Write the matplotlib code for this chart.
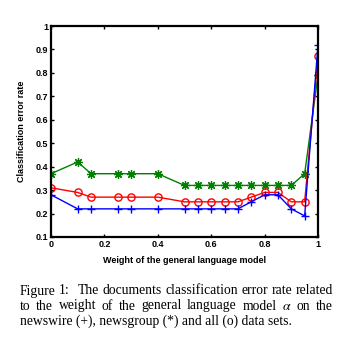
import matplotlib
matplotlib.use("Agg")
import matplotlib.pyplot as plt

plt.rcParams["mathtext.fontset"] = "stix"

# Weight of the general language model
weights = [0.0, 0.1, 0.15, 0.25, 0.3, 0.4, 0.5, 0.55, 0.6, 0.65, 0.7,
           0.75, 0.8, 0.85, 0.9, 0.95, 1.0]
# Classification error rates
newswire = [0.28, 0.22, 0.22, 0.22, 0.22, 0.22, 0.22, 0.22, 0.22, 0.22, 0.22,
            0.25, 0.28, 0.28, 0.22, 0.19, 0.92]
newsgroup = [0.37, 0.42, 0.37, 0.37, 0.37, 0.37, 0.32, 0.32, 0.32, 0.32, 0.32,
             0.32, 0.32, 0.32, 0.32, 0.37, 0.79]
all_sets = [0.31, 0.29, 0.27, 0.27, 0.27, 0.27, 0.25, 0.25, 0.25, 0.25, 0.25,
            0.27, 0.29, 0.29, 0.25, 0.25, 0.87]
yticks = [0.1, 0.2, 0.3, 0.4, 0.5, 0.6, 0.7, 0.8, 0.9, 1.0]
ytick_labels = ["0.1", "0.2", "0.3", "0.4", "0.5", "0.6", "0.7", "0.8", "0.9", "1"]
xticks = [0, 0.2, 0.4, 0.6, 0.8, 1.0]
xtick_labels = ["0", "0.2", "0.4", "0.6", "0.8", "1"]

caption_lines = [
    "Figure 1:  The documents classification error rate related",
    "to the weight of the general language model $\\alpha$ on the",
    "newswire (+), newsgroup (*) and all (o) data sets.",
]

W, H = 359, 342
fig = plt.figure(figsize=(W / 100, H / 100), dpi=100)
ax = fig.add_axes([51 / W, 1 - 237 / H, (318 - 51) / W, (237 - 26) / H])

ax.plot(weights, newsgroup, color="#008000", marker=(8, 2, 0), markersize=6.5,
        markeredgewidth=0.9, linewidth=1.0)
ax.plot(weights, all_sets, color="red", marker="o", markersize=5.2,
        markerfacecolor="none", markeredgewidth=1.0, linewidth=1.0)
ax.plot(weights, newswire, color="blue", marker="+", markersize=6,
        markeredgewidth=1.0, linewidth=1.0)

ax.set_xlim(0, 1)
ax.set_ylim(0.1, 1.0)
ax.set_xticks(xticks)
ax.set_xticklabels(xtick_labels)
ax.set_yticks(yticks)
ax.set_yticklabels(ytick_labels)
for lab in ax.get_xticklabels() + ax.get_yticklabels():
    lab.set_fontfamily("Liberation Sans")
    lab.set_fontweight("bold")
    lab.set_fontsize(6.5)
ax.tick_params(direction="in", length=2.5, width=1.0, top=True, right=True,
               pad=2)
for s in ax.spines.values():
    s.set_linewidth(1.6)

ax.set_xlabel("Weight of the general language model", fontfamily="Liberation Sans",
              fontweight="bold", fontsize=6.5, labelpad=5)
ax.set_ylabel("Classification error rate", fontfamily="Liberation Sans",
              fontweight="bold", fontsize=6.5, labelpad=7)

# Justified caption set in a serif face
left_px, right_px = 20, 333
line_y = [291, 306, 321]
fs = 9.8
fig.canvas.draw()
renderer = fig.canvas.get_renderer()
for i, (line, yc) in enumerate(zip(caption_lines, line_y)):
    y = 1 - yc / H
    if i == len(caption_lines) - 1:
        fig.text(left_px / W, y, line, fontfamily="Liberation Serif",
                 fontsize=fs, va="center", ha="left")
        continue
    words = line.split()
    texts = []
    widths = []
    for w in words:
        t = fig.text(0, y, w, fontfamily="Liberation Serif", fontsize=fs,
                     va="center", ha="left")
        bb = t.get_window_extent(renderer)
        texts.append(t)
        widths.append(bb.width)
    # a sentence-ending colon gets a slightly wider space
    extra = [4 if w.endswith(":") else 0 for w in words[:-1]]
    gap = ((right_px - left_px) - sum(widths) - sum(extra)) / (len(words) - 1)
    x = left_px
    for j, (t, wd) in enumerate(zip(texts, widths)):
        t.set_x(x / W)
        x += wd + gap + (extra[j] if j < len(extra) else 0)

fig.savefig("out.png", dpi=100)
